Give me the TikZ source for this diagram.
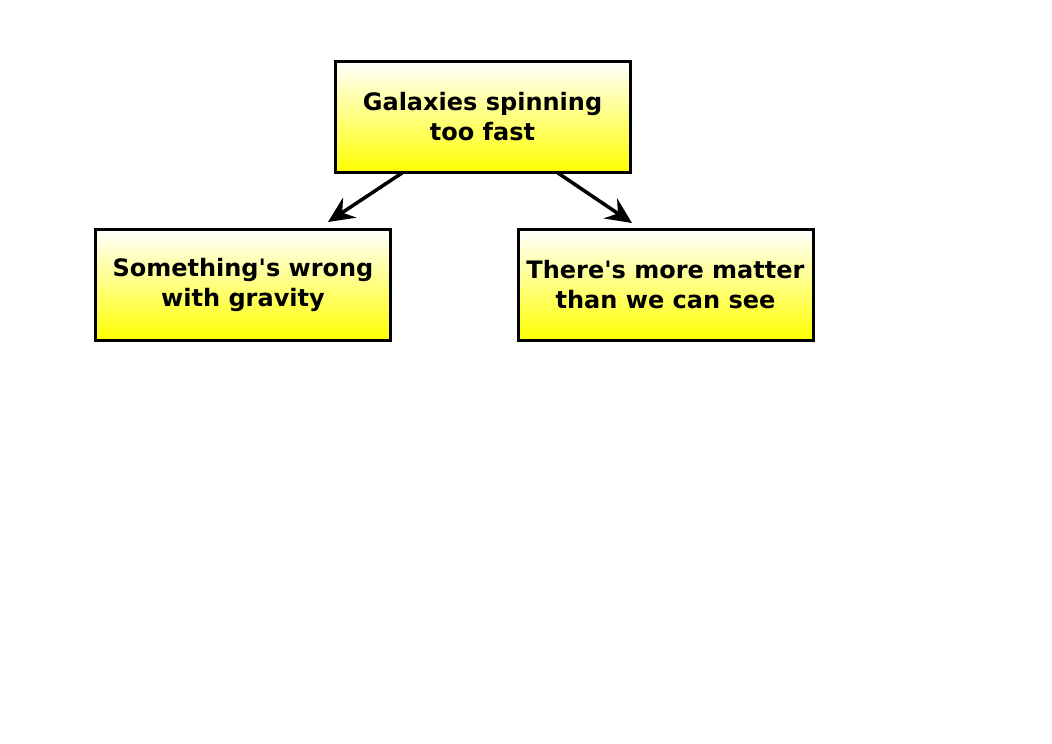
\documentclass[tikz,border=0pt]{standalone}
\usepackage{fontspec}
\setmainfont{DejaVu Sans}[Ligatures=TeXOff]
\usetikzlibrary{arrows.meta}
\tikzset{
  idea/.style={draw=black, line width=3pt, top color=white, bottom color=yellow,
    minimum width=295pt, minimum height=111pt, inner sep=0pt, align=center,
    font=\fontsize{24}{30}\selectfont\bfseries},
  link/.style={line width=3.5pt, -{Stealth[length=26pt,width=24pt,inset=9pt]}}
}
\begin{document}
\begin{tikzpicture}[x=1pt,y=-1pt]
\useasboundingbox (0,0) rectangle (1052,744);
\node[idea] (top) at (482.5,116.5) {Galaxies spinning\\too fast};
\node[idea] (left) at (243,284.5) {Something's wrong\\with gravity};
\node[idea] (right) at (665.5,284.5) {There's more matter\\than we can see};
\coordinate (a1) at (402,173);
\coordinate (b1) at (328,222);
\coordinate (a2) at (558,173);
\coordinate (b2) at (632,223);
\draw[link] (a1) -- (b1);
\draw[link] (a2) -- (b2);
\end{tikzpicture}
\end{document}
